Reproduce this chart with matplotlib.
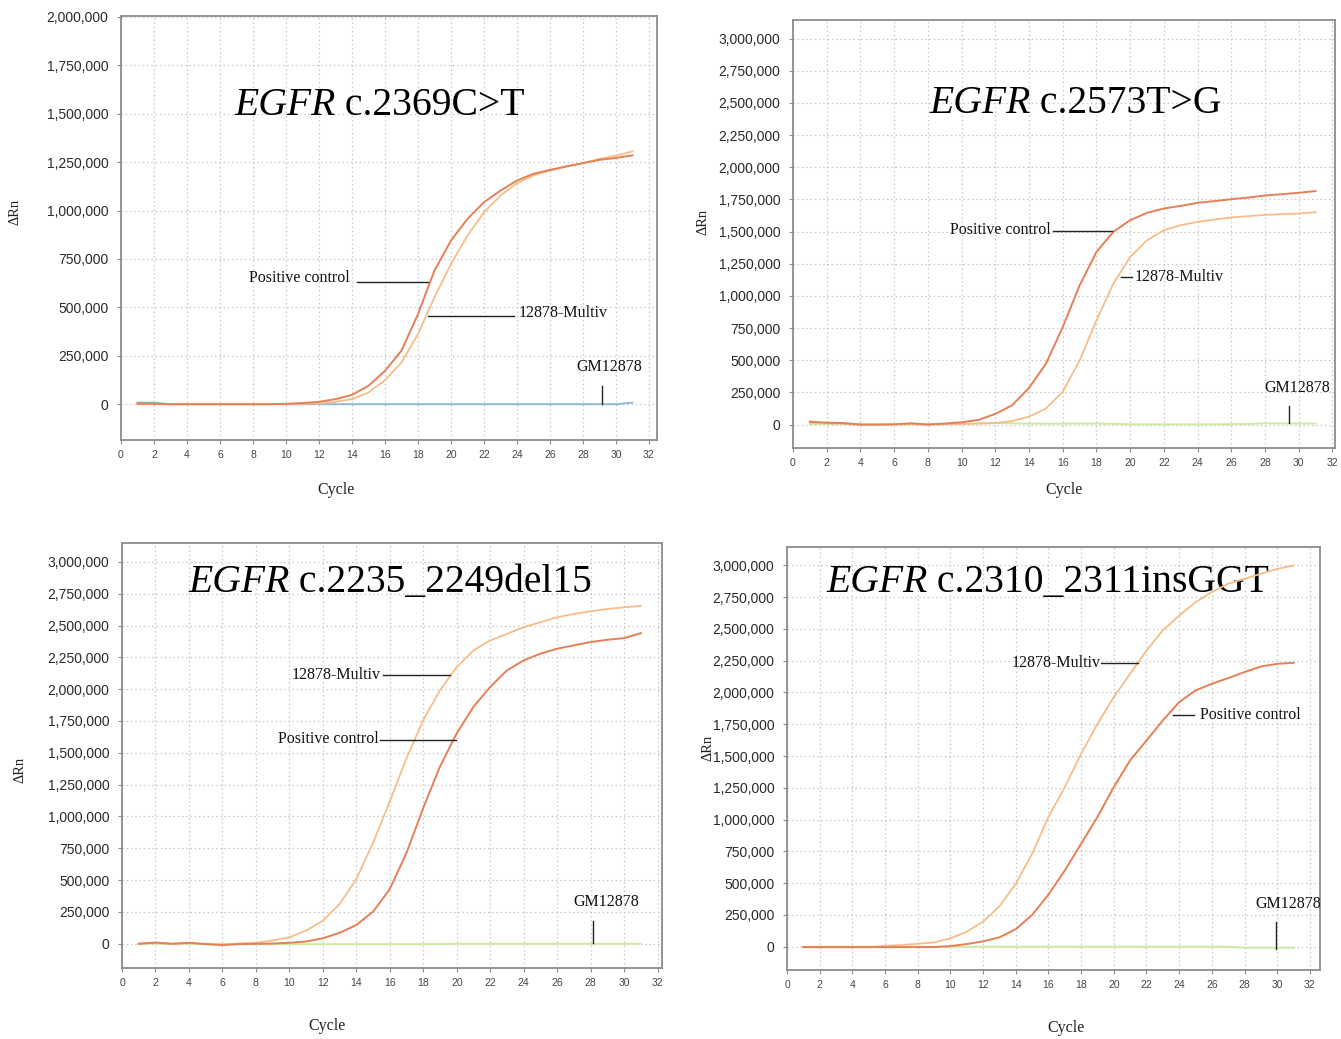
import matplotlib
matplotlib.use("Agg")
import matplotlib.pyplot as plt
from matplotlib.ticker import FuncFormatter, MultipleLocator
import numpy as np

cycles = list(range(1, 32))

# Panel A: EGFR c.2369C>T
a_pc = [3000, 2000, 0, 0, 0, 0, 0, 0, 0, 2000, 6000, 12000, 26000, 48000, 95000,
        172000, 276000, 465000, 690000, 845000, 957000, 1043000, 1103000, 1155000,
        1190000, 1210000, 1228000, 1245000, 1262000, 1272000, 1285000]
a_mv = [0, 0, 0, 0, 0, 0, 0, 0, 0, 0, 2000, 4000, 12000, 26000, 60000,
        124000, 215000, 362000, 552000, 724000, 871000, 991000, 1077000, 1141000,
        1181000, 1207000, 1228000, 1245000, 1267000, 1284000, 1306000]
a_gm = [8000, 8000, 0, 0, 0, 0, 0, 0, 0, 0, 0, 0, 0, 0, 0, 0, 0, 0, 0, 0, 0, 0,
        0, 0, 0, 0, 0, 0, 0, 0, 8000]

# Panel B: EGFR c.2573T>G
b_pc = [20000, 15000, 12000, 0, 0, 2000, 10000, 0, 8000, 18000, 36000, 83000,
        150000, 285000, 472000, 758000, 1082000, 1342000, 1498000, 1589000,
        1646000, 1680000, 1700000, 1724000, 1737000, 1752000, 1765000, 1781000,
        1791000, 1802000, 1815000]
b_mv = [27000, 10000, 5000, 0, 0, 0, 3000, 0, 2000, 5000, 8000, 12000, 27000,
        62000, 125000, 255000, 498000, 810000, 1095000, 1303000, 1433000, 1511000,
        1550000, 1576000, 1594000, 1610000, 1620000, 1630000, 1636000, 1641000,
        1651000]
b_gm = [5000, 5000, 4000, 2000, 2000, 3000, 4000, 3000, 5000, 6000, 9000, 12000,
        10000, 8000, 7000, 7000, 8000, 8000, 6000, 2000, 2000, 2000, 2000, 2000,
        2000, 3000, 5000, 10000, 9000, 8000, 8000]

# Panel C: EGFR c.2235_2249del15
c_pc = [0, 10000, 0, 8000, -2000, -10000, -2000, 0, 2000, 8000, 18000, 44000,
        86000, 148000, 253000, 430000, 716000, 1068000, 1393000, 1654000, 1862000,
        2018000, 2148000, 2226000, 2279000, 2318000, 2344000, 2370000, 2388000,
        2401000, 2440000]
c_mv = [2000, 8000, 0, 6000, -3000, -6000, 2000, 8000, 26000, 52000, 104000,
        182000, 312000, 508000, 794000, 1120000, 1458000, 1758000, 1992000,
        2174000, 2305000, 2383000, 2435000, 2487000, 2526000, 2565000, 2591000,
        2612000, 2630000, 2643000, 2654000]
c_gm = [0, 0, 0, 0, 0, -2000, -3000, -3000, -3000, -3000, -3000, -3000, -3000,
        -3000, -3000, -3000, -3000, -3000, -2000, 0, 0, 0, 0, 0, 0, 0, 0, 0, 0, 0, 0]

# Panel D: EGFR c.2310_2311insGGT
d_pc = [-3000, -3000, -3000, -3000, -3000, -3000, -3000, -3000, -3000, 5000,
        21000, 42000, 74000, 138000, 250000, 410000, 600000, 810000, 1020000,
        1256000, 1466000, 1622000, 1780000, 1924000, 2016000, 2068000, 2113000,
        2160000, 2204000, 2225000, 2233000]
d_mv = [-5000, -5000, -5000, -5000, -5000, 8000, 13000, 24000, 34000, 66000,
        118000, 197000, 318000, 495000, 731000, 1020000, 1256000, 1517000,
        1753000, 1963000, 2147000, 2330000, 2488000, 2605000, 2710000, 2789000,
        2855000, 2894000, 2933000, 2972000, 2998000]
d_gm = [0, 0, 0, 0, 0, 0, 0, 0, 0, 0, 0, 0, 0, 0, 0, 0, 0, 0, 0, 0, 0, 0, 0, 0,
        0, 0, 0, -8000, -8000, -8000, -8000]

titles_gene = ["EGFR", "EGFR", "EGFR", "EGFR"]
titles_var = [" c.2369C>T", " c.2573T>G", " c.2235_2249del15", " c.2310_2311insGGT"]
label_pc = "Positive control"
label_mv = "12878-Multiv"
label_gm = "GM12878"

W, H = 1341, 1039
fig = plt.figure(figsize=(W / 100, H / 100), dpi=100)
fig.patch.set_facecolor("white")

SERIF = ["Liberation Serif", "DejaVu Serif"]
SANS = ["Liberation Sans", "DejaVu Sans"]

PC_COL = "#e77f56"
MV_COL = "#f7bd88"
GM_BLUE = "#8cbadb"
GM_GREEN = "#cfe8a3"

def px_rect(l, t, r, b):
    return [l / W, 1 - b / H, (r - l) / W, (b - t) / H]

panels = [
    dict(rect=px_rect(121, 16, 657, 440), xlim=(0, 32.49), ylim=(-185000, 2005000),
         ymax=2000000, pc=a_pc, mv=a_mv, gm=a_gm, gmc=GM_BLUE,
         title_xy=(234, 115), ylab_xy=(15, 212), cyc_xy=(336, 490),
         ann=[(label_pc, (13.85, 651000), 'right', [(14.3, 630000), (18.6, 630000)]),
              (label_mv, (24.1, 470000), 'left', [(18.6, 455000), (23.8, 455000)]),
              (label_gm, (29.6, 150000), 'center', [(29.15, 93000), (29.15, 0)])]),
    dict(rect=px_rect(793, 20, 1335, 448), xlim=(0, 32.15), ylim=(-182000, 3145000),
         ymax=3000000, pc=b_pc, mv=b_mv, gm=b_gm, gmc=GM_GREEN,
         title_xy=(929, 113), ylab_xy=(703, 222), cyc_xy=(1064, 490),
         ann=[(label_pc, (15.3, 1511000), 'right', [(15.42, 1503000), (18.9, 1503000)]),
              (label_mv, (20.24, 1145000), 'left', [(19.46, 1145000), (20.1, 1145000)]),
              (label_gm, (29.9, 226000), 'center', [(29.4, 148000), (29.4, 16000)])]),
    dict(rect=px_rect(122, 543, 662, 968), xlim=(0, 32.26), ylim=(-190000, 3148000),
         ymax=3000000, pc=c_pc, mv=c_mv, gm=c_gm, gmc=GM_GREEN,
         title_xy=(188, 592), ylab_xy=(20, 770), cyc_xy=(327, 1026),
         ann=[(label_mv, (15.46, 2109000), 'right', [(15.6, 2109000), (19.57, 2109000)]),
              (label_pc, (15.34, 1609000), 'right', [(15.4, 1601000), (19.93, 1601000)]),
              (label_gm, (28.9, 266000), 'center', [(28.14, 180000), (28.14, 8000)])]),
    dict(rect=px_rect(787, 547, 1320, 970), xlim=(0, 32.62), ylim=(-183000, 3144000),
         ymax=3000000, pc=d_pc, mv=d_mv, gm=d_gm, gmc=GM_GREEN,
         title_xy=(826, 592), ylab_xy=(708, 748), cyc_xy=(1066, 1028),
         ann=[(label_mv, (19.2, 2233000), 'right', [(19.2, 2233000), (21.5, 2233000)]),
              (label_pc, (25.3, 1824000), 'left', [(23.6, 1824000), (24.9, 1824000)]),
              (label_gm, (30.7, 275000), 'center', [(29.9, 197000), (29.9, -16000)])]),
]

fmt = FuncFormatter(lambda v, p: f"{int(round(v)):,}")

for i, P in enumerate(panels):
    ax = fig.add_axes(P["rect"])
    ax.set_xlim(*P["xlim"])
    ax.set_ylim(*P["ylim"])
    ax.xaxis.set_major_locator(MultipleLocator(2))
    ax.set_yticks(np.arange(0, P["ymax"] + 1, 250000))
    ax.yaxis.set_major_formatter(fmt)
    ax.grid(True, color="#c8c8c8", linestyle=(0, (1.2, 2.2)), linewidth=0.9)
    for s in ax.spines.values():
        s.set_color("#8c8c8c")
        s.set_linewidth(1.3)
    ax.tick_params(axis="y", length=3, width=0.8, color="#8c8c8c", labelsize=10,
                   labelcolor="#2a2a2a", pad=6)
    ax.tick_params(axis="x", length=3, width=0.8, color="#8c8c8c", labelsize=7.5,
                   labelcolor="#444444", pad=4)
    for lab in ax.get_yticklabels() + ax.get_xticklabels():
        lab.set_fontfamily(SANS)

    ax.plot(cycles, P["gm"], color=P["gmc"], lw=1.4, zorder=3)
    ax.plot(cycles, P["mv"], color=MV_COL, lw=1.3, zorder=4)
    ax.plot(cycles, P["pc"], color=PC_COL, lw=1.4, zorder=5)

    for text, txy, ha, seg in P["ann"]:
        va = "bottom" if ha == "center" else "center"
        ax.text(txy[0], txy[1], text, ha=ha, va=va, fontsize=11.5,
                family=SERIF, color="#111111", zorder=6)
        ax.plot([seg[0][0], seg[1][0]], [seg[0][1], seg[1][1]], color="#222222",
                lw=1.0, zorder=6)

    tx, ty = P["title_xy"]
    t1 = fig.text(tx / W, 1 - ty / H, titles_gene[i], fontsize=28.5, style="italic",
                  family=SERIF, ha="left", va="baseline", color="black")
    ax.annotate(titles_var[i], xy=(1, 0), xycoords=t1, fontsize=28.5, family=SERIF,
                ha="left", va="bottom", color="black")

    yx, yy = P["ylab_xy"]
    fig.text(yx / W, 1 - yy / H, "ΔRn", rotation=90, fontsize=10.5, family=SERIF,
             ha="center", va="center", color="#222222")
    cx, cy = P["cyc_xy"]
    fig.text(cx / W, 1 - cy / H, "Cycle", fontsize=11.5, family=SERIF,
             ha="center", va="center", color="#222222")

fig.savefig("out.png", dpi=100, facecolor="white")
